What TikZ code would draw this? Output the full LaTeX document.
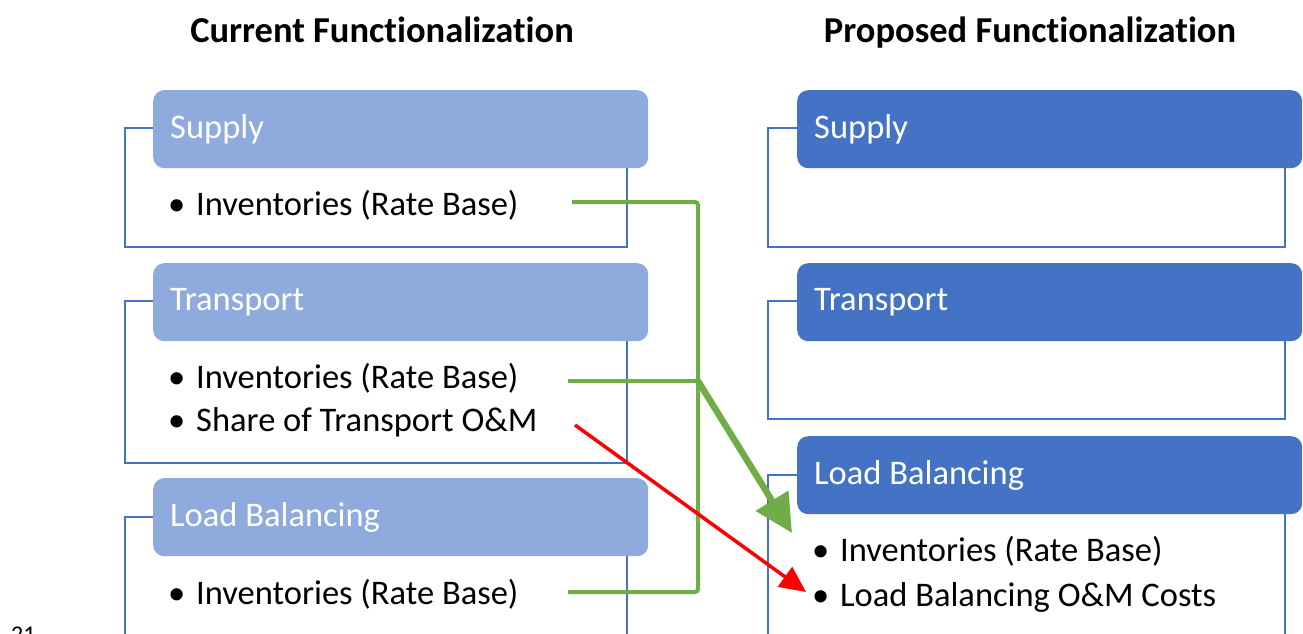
\documentclass[tikz,border=0pt]{standalone}
\usepackage{fontspec}
\setmainfont{Carlito}[Ligatures=NoCommon]
\usetikzlibrary{arrows.meta}
\definecolor{hdrlight}{HTML}{8FAADC}
\definecolor{hdrdark}{HTML}{4472C4}
\definecolor{framecol}{HTML}{4472C4}
\definecolor{movegreen}{HTML}{70AD47}
\definecolor{movered}{HTML}{FF0000}
\begin{document}
\begin{tikzpicture}[x=1pt,y=-1pt,
  title/.style={font=\fontsize{36.5}{42}\selectfont\bfseries, inner sep=0pt, anchor=base},
  framebox/.style={draw=framecol, line width=1.4pt},
  hdr/.style={rounded corners=11pt, inner xsep=17pt, inner ysep=0pt,
    minimum height=78pt, anchor=north west, align=flush left, text=white,
    font=\fontsize{34.5}{40}\selectfont},
  hdrL/.style={hdr, fill=hdrlight, text width=461pt},
  hdrR/.style={hdr, fill=hdrdark, text width=471pt},
  item/.style={anchor=west, inner sep=0pt, font=\fontsize{34.5}{40}\selectfont},
  greenline/.style={draw=movegreen, line width=4pt, rounded corners=3pt},
  greenarrow/.style={draw=movegreen, line width=6.5pt,
    -{Triangle[length=38pt,width=37pt]}},
  redarrow/.style={draw=movered, line width=3.5pt,
    -{Triangle[length=26pt,width=24pt]}}
]
\clip (0,0) rectangle (1303,634);
\fill[white] (0,0) rectangle (1303,634);

% column titles
\node[title] (tcur) at (382,43) {Current Functionalization};
\node[title] (tpro) at (1030,43) {Proposed Functionalization};

% ---------- current functionalization ----------
\draw[framebox] (125,128) rectangle (627,247);
\node[hdrL] (cs) at (153,90) {Supply};
\node[item] (cs1) at (168,205) {\makebox[28pt][l]{\textbullet}Inventories (Rate Base)};

\draw[framebox] (125,301) rectangle (627,463);
\node[hdrL] (ct) at (153,263) {Transport};
\node[item] (ct1) at (168,378) {\makebox[28pt][l]{\textbullet}Inventories (Rate Base)};
\node[item] (ct2) at (168,422) {\makebox[28pt][l]{\textbullet}Share of Transport O\&M};

\draw[framebox] (125,517) rectangle (627,660);
\node[hdrL] (cl) at (153,478) {Load Balancing};
\node[item] (cl1) at (168,594) {\makebox[28pt][l]{\textbullet}Inventories (Rate Base)};

% ---------- proposed functionalization ----------
\draw[framebox] (768,128) rectangle (1285,247);
\node[hdrR] (ps) at (797,90) {Supply};

\draw[framebox] (768,301) rectangle (1285,419);
\node[hdrR] (pt) at (797,263) {Transport};

\draw[framebox] (768,475) rectangle (1285,660);
\node[hdrR] (pl) at (797,436) {Load Balancing};
\node[item] (pl1) at (812,551) {\makebox[28pt][l]{\textbullet}Inventories (Rate Base)};
\node[item] (pl2) at (812,597) {\makebox[28pt][l]{\textbullet}Load Balancing O\&M Costs};

% page number, cut by the lower edge
\node[anchor=north west, inner sep=0pt, font=\fontsize{24}{28}\selectfont] (pg) at (11,627) {21};

% ---------- moves ----------
\coordinate (g1) at (572,202);
\coordinate (g2) at (568,381);
\coordinate (g3) at (568,592);
\coordinate (jt) at (698,202);
\coordinate (jm) at (698,381);
\coordinate (jb) at (698,592);
\coordinate (gtip) at (792,533);
\coordinate (r0) at (575,425);
\coordinate (rtip) at (806,592);

\draw[greenline] (g1) -- (jt) -- (jb) -- (g3);
\draw[greenline] (g2) -- (jm);
\draw[greenarrow] (jm) -- (gtip);
\draw[redarrow] (r0) -- (rtip);
\end{tikzpicture}
\end{document}
